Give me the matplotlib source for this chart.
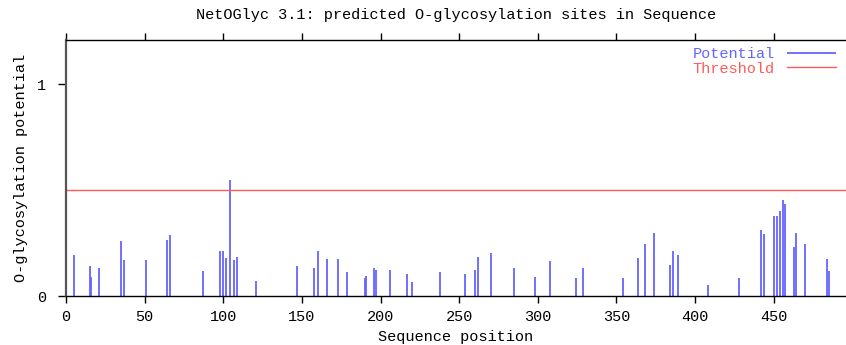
import numpy as np
import matplotlib
matplotlib.use('Agg')
import matplotlib.pyplot as plt

# predicted sites
positions = [5, 15, 16, 21, 35, 37, 51, 64, 66, 87,
             98, 100, 102, 104, 107, 109, 121, 147, 158, 160,
             166, 173, 179, 190, 191, 196, 197,
             206, 217, 220, 238, 254, 260, 262, 270, 285, 298,
             308, 324, 329, 354, 364, 368, 374, 384, 386, 389,
             408, 428, 442, 444, 450, 452, 454, 456, 457, 463,
             464, 470, 484, 485]
potential = [0.193, 0.143, 0.091, 0.136, 0.262, 0.171, 0.171, 0.268, 0.290, 0.121,
             0.216, 0.216, 0.182, 0.546, 0.171, 0.188, 0.075, 0.143, 0.132, 0.216,
             0.177, 0.177, 0.115, 0.086, 0.097, 0.132, 0.125,
             0.125, 0.108, 0.069, 0.115, 0.108, 0.125, 0.188, 0.205, 0.132, 0.093,
             0.166, 0.086, 0.136, 0.086, 0.182, 0.245, 0.301, 0.149, 0.216, 0.193,
             0.052, 0.086, 0.312, 0.296, 0.381, 0.381, 0.403, 0.455, 0.433, 0.234,
             0.301, 0.249, 0.177, 0.119]
threshold = 0.5
seq_len = 496

mono = 'Liberation Mono'
fsize = 11
blue = '#6464ff'
red = '#ff5a5a'

fig = plt.figure(figsize=(8.46, 3.45), dpi=100)
ax = fig.add_axes([0.078, 0.1406, 0.922, 0.7434])

ax.vlines(positions, 0, potential, color=blue, linewidth=1.3, label='Potential')
ax.axhline(threshold, color=red, linewidth=1.0, label='Threshold')

ax.set_xlim(0, seq_len)
ax.set_ylim(0, 1.207)

ax.set_xticks(np.arange(0, 451, 50))
ax.set_yticks([0, 1])
ax.tick_params(axis='x', which='both', direction='out', length=5, width=1,
               top=True, bottom=True, labelsize=fsize, pad=5)
ax.tick_params(axis='y', direction='out', length=6, width=1, labelsize=fsize, pad=8)
for lab in ax.get_xticklabels() + ax.get_yticklabels():
    lab.set_fontfamily(mono)

ax.spines['right'].set_visible(False)
ax.spines['left'].set_color('#555555')
ax.spines['left'].set_linewidth(1.6)
ax.spines['bottom'].set_linewidth(1.0)
ax.spines['top'].set_linewidth(1.0)

ax.set_xlabel('Sequence position', fontfamily=mono, fontsize=fsize, labelpad=4)
ax.set_ylabel('O-glycosylation potential', fontfamily=mono, fontsize=fsize, labelpad=7)
ax.set_title('NetOGlyc 3.1: predicted O-glycosylation sites in Sequence',
             fontfamily=mono, fontsize=fsize, pad=15)

leg = ax.legend(loc='upper right', frameon=False, markerfirst=False,
                prop={'family': mono, 'size': fsize},
                handlelength=3.2, handletextpad=0.8, labelspacing=0.05,
                borderaxespad=0.0, bbox_to_anchor=(0.995, 0.997))
for txt, col in zip(leg.get_texts(), [blue, red]):
    txt.set_color(col)

fig.savefig('out.png', dpi=100)
